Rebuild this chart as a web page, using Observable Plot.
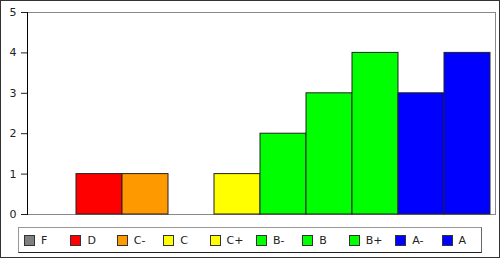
<!DOCTYPE html>
<html><head><meta charset="utf-8">
<script src="https://cdn.jsdelivr.net/npm/d3@7"></script>
<script src="https://cdn.jsdelivr.net/npm/@observablehq/plot@0.6"></script>
<style>
body{margin:0;background:#fff;font-family:"DejaVu Sans",sans-serif;}
#wrap{position:relative;width:500px;height:258px;overflow:hidden;background:#fff;}
#chart{position:absolute;left:0;top:0;}
#border{position:absolute;left:0;top:0;width:500px;height:258px;box-sizing:border-box;border:1px solid #333;pointer-events:none;}
#legend{position:absolute;left:18px;top:227px;width:464px;height:26px;box-sizing:border-box;border:1px solid;border-color:#999 #666 #222 #999;display:flex;padding-left:5px;}
.item{width:46.4px;flex:none;display:flex;align-items:center;font-size:11px;color:#222;}
.sw{width:11px;height:11px;box-sizing:border-box;border:1px solid #333;margin-right:6px;flex:none;}
</style>
</head><body>
<div id="wrap"><div id="chart"></div><div id="legend"></div><div id="border"></div></div>
<script>
const grades = ["F","D","C-","C","C+","B-","B","B+","A-","A"];
const counts = [0,1,1,0,1,2,3,4,3,4];
const colors = ["#808080","#ff0000","#ff9900","#ffff00","#ffff00","#00ff00","#00ff00","#00ff00","#0000ff","#0000ff"];
const yTicks = [0,1,2,3,4,5];

const data = grades.map((g,i)=>({grade:g,count:counts[i],color:colors[i]}));

const plot = Plot.plot({
  width: 500, height: 222,
  marginLeft: 27, marginRight: 5, marginTop: 12, marginBottom: 8,
  x: {domain: grades, range: [27, 492], padding: 0, axis: null},
  y: {domain: [0, 5], axis: null},
  color: {type: "identity"},
  style: {fontFamily: "DejaVu Sans, sans-serif", fontSize: "11px", color: "#222", background: "transparent"},
  marks: [
    Plot.frame({stroke: "#888"}),
    Plot.barY(data, {x: "grade", y: "count", fill: "color", stroke: "#222", strokeWidth: 1, inset: 0}),
    Plot.axisY({ticks: yTicks, tickFormat: d3.format("d"), label: null, tickSize: 6, tickPadding: 5, stroke: "#222", fill: "#222"}),
    Plot.frame({anchor: "left", stroke: "#000"})
  ]
});
document.getElementById("chart").appendChild(plot);

const legend = d3.select("#legend");
grades.forEach((g,i)=>{
  const it = legend.append("div").attr("class","item");
  it.append("div").attr("class","sw").style("background", colors[i]);
  it.append("span").text(g);
});
</script>
</body></html>
